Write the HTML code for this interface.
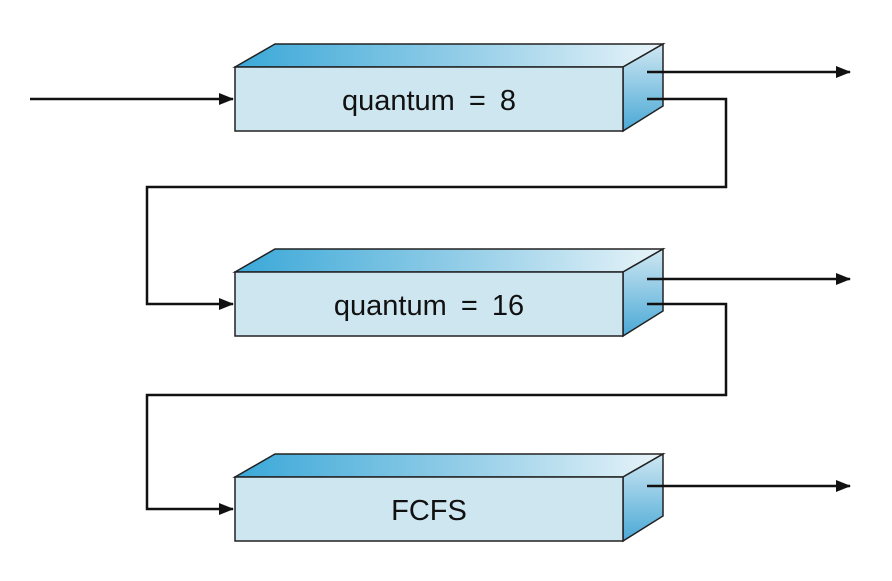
<!DOCTYPE html>
<html><head><meta charset="utf-8"><style>body{margin:0;background:#fff}</style></head><body>
<svg width="892" height="576" viewBox="0 0 892 576" xmlns="http://www.w3.org/2000/svg">
<defs>
<linearGradient id="top" x1="0" y1="0" x2="1" y2="0">
<stop offset="0" stop-color="#3aa8d8"/><stop offset="0.5" stop-color="#8ecbe6"/><stop offset="1" stop-color="#e8f4f9"/>
</linearGradient>
<linearGradient id="side" x1="0" y1="0" x2="0" y2="1">
<stop offset="0" stop-color="#cfe7f2"/><stop offset="1" stop-color="#4aa9d6"/>
</linearGradient>
<marker id="ah" markerWidth="15" markerHeight="12" refX="14" refY="6" orient="auto" markerUnits="userSpaceOnUse">
<path d="M0,0 L15,6 L0,12 Z" fill="#111"/>
</marker>
<g id="box">
<polygon points="235,67 275,44 663,44 623,67" fill="url(#top)" stroke="#222" stroke-width="1.5"/>
<polygon points="623,67 663,44 663,106 623,131" fill="url(#side)" stroke="#222" stroke-width="1.5"/>
<rect x="235" y="67" width="388" height="64" fill="#cde6f0" stroke="#222" stroke-width="1.5"/>
</g>
</defs>
<use href="#box"/>
<use href="#box" y="205"/>
<use href="#box" y="410"/>
<g font-family="Liberation Sans, sans-serif" font-size="29" fill="#111" text-anchor="middle">
<text x="429" y="110" word-spacing="6">quantum = 8</text>
<text x="429" y="315" word-spacing="6">quantum = 16</text>
<text x="429" y="520">FCFS</text>
</g>
<g stroke="#111" stroke-width="2.5" fill="none">
<line x1="30" y1="99" x2="233" y2="99" marker-end="url(#ah)"/>
<line x1="647" y1="72" x2="850" y2="72" marker-end="url(#ah)"/>
<line x1="647" y1="279" x2="850" y2="279" marker-end="url(#ah)"/>
<line x1="647" y1="486" x2="850" y2="486" marker-end="url(#ah)"/>
<polyline points="647,99 726,99 726,187 147,187 147,304 233,304" marker-end="url(#ah)"/>
<polyline points="647,304 726,304 726,395 147,395 147,509 233,509" marker-end="url(#ah)"/>
</g>
</svg>
</body></html>
